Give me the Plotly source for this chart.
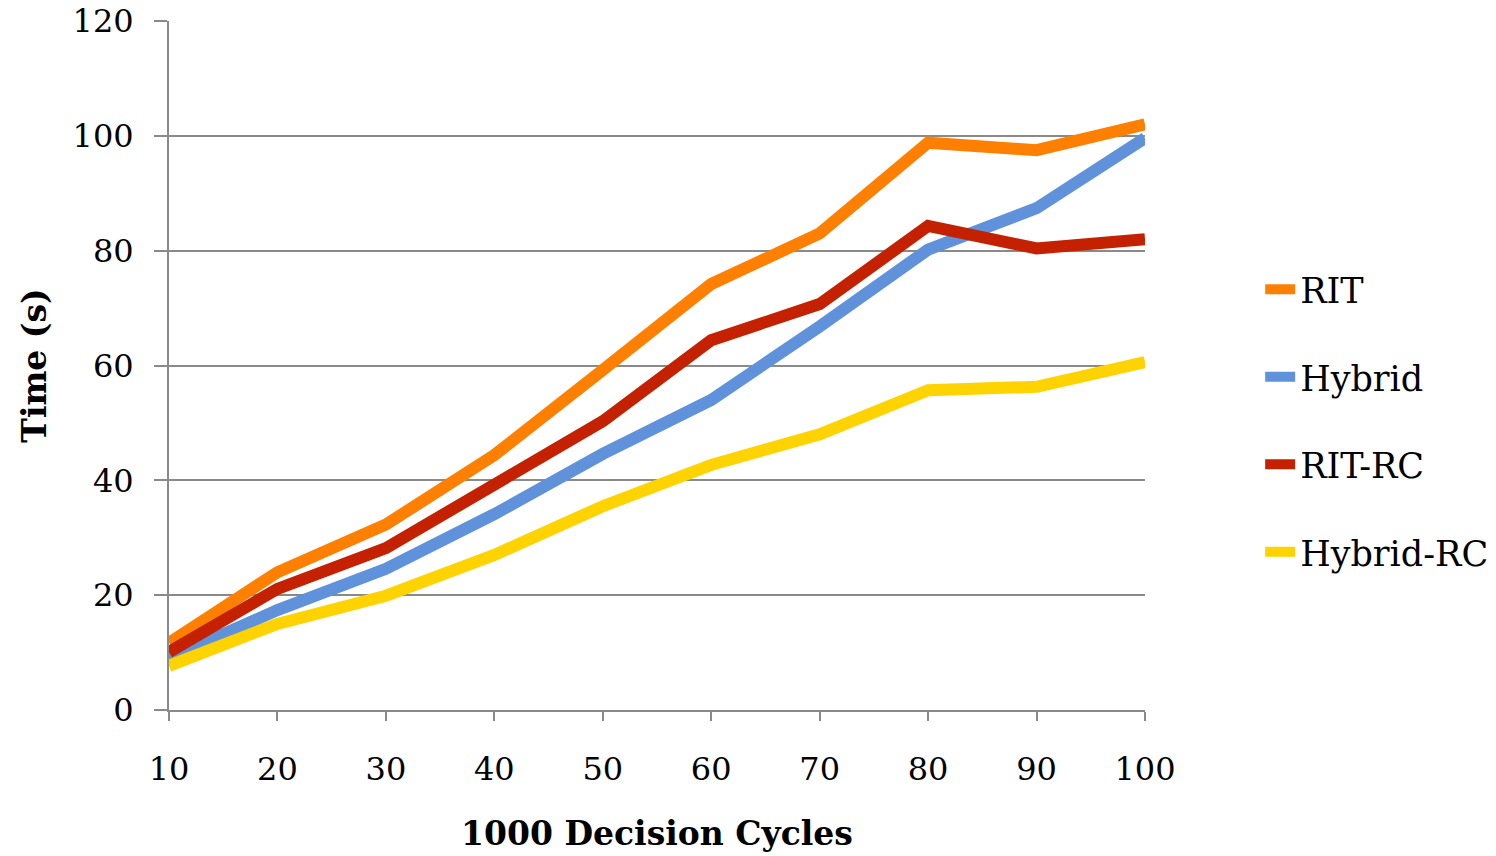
import plotly.graph_objects as go

cycles = [10, 20, 30, 40, 50, 60, 70, 80, 90, 100]
rit = [11.7, 24.0, 32.3, 44.4, 59.2, 74.2, 83.0, 98.8, 97.5, 102.0]
hybrid = [9.0, 17.4, 24.6, 34.1, 44.6, 54.0, 66.8, 80.2, 87.4, 99.6]
rit_rc = [10.1, 21.1, 28.2, 39.4, 50.3, 64.4, 70.7, 84.3, 80.4, 82.0]
hybrid_rc = [7.7, 15.0, 19.9, 27.0, 35.5, 42.7, 48.0, 55.7, 56.3, 60.6]

series = [
    ("RIT", rit, "#FF8000"),
    ("Hybrid", hybrid, "#5F92DA"),
    ("RIT-RC", rit_rc, "#C42100"),
    ("Hybrid-RC", hybrid_rc, "#FFD300"),
]

FONT = "DejaVu Serif"
fig = go.Figure()
for i, (name, vals, col) in enumerate(series):
    fig.add_trace(go.Scatter(
        x=cycles, y=vals, name=name, mode="lines",
        line=dict(color=col, width=12),
        legendgroup=f"g{i}",
    ))

grid = "#8A8A8A"
fig.update_layout(
    width=1496, height=856,
    margin=dict(l=169, r=351, t=21, b=146, autoexpand=False),
    paper_bgcolor="white", plot_bgcolor="white",
    font=dict(family=FONT, size=31, color="black"),
    legend=dict(
        x=1.118, y=0.42, xanchor="left", yanchor="middle",
        font=dict(family=FONT, size=35, color="black"),
        tracegroupgap=39, itemwidth=30,
        bgcolor="rgba(0,0,0,0)",
    ),
    showlegend=True,
)
fig.update_xaxes(
    range=[10, 100], tickvals=cycles, ticktext=[str(c) for c in cycles],
    showgrid=False, showline=True, linecolor=grid, linewidth=2,
    ticks="outside", ticklen=9, tickwidth=2, tickcolor=grid,
    ticklabelstandoff=21, automargin=False, ticklabeloverflow="allow",
    tickfont=dict(family=FONT, size=32),
    title=dict(text="<b>1000 Decision Cycles</b>", font=dict(family=FONT, size=33), standoff=34),
    zeroline=False,
)
fig.update_yaxes(
    range=[0, 120], tickvals=[0, 20, 40, 60, 80, 100, 120],
    showgrid=True, gridcolor=grid, gridwidth=2,
    showline=True, linecolor=grid, linewidth=2,
    ticks="outside", ticklen=13, tickwidth=2, tickcolor=grid,
    ticklabelstandoff=14, automargin=False, ticklabeloverflow="allow",
    tickfont=dict(family=FONT, size=32),
    title=dict(text="<b>Time (s)</b>", font=dict(family=FONT, size=33), standoff=16),
    zeroline=False,
)

fig.write_html(
    "out.html",
    config={"displayModeBar": False},
    post_script="document.body.style.margin='0';",
)
